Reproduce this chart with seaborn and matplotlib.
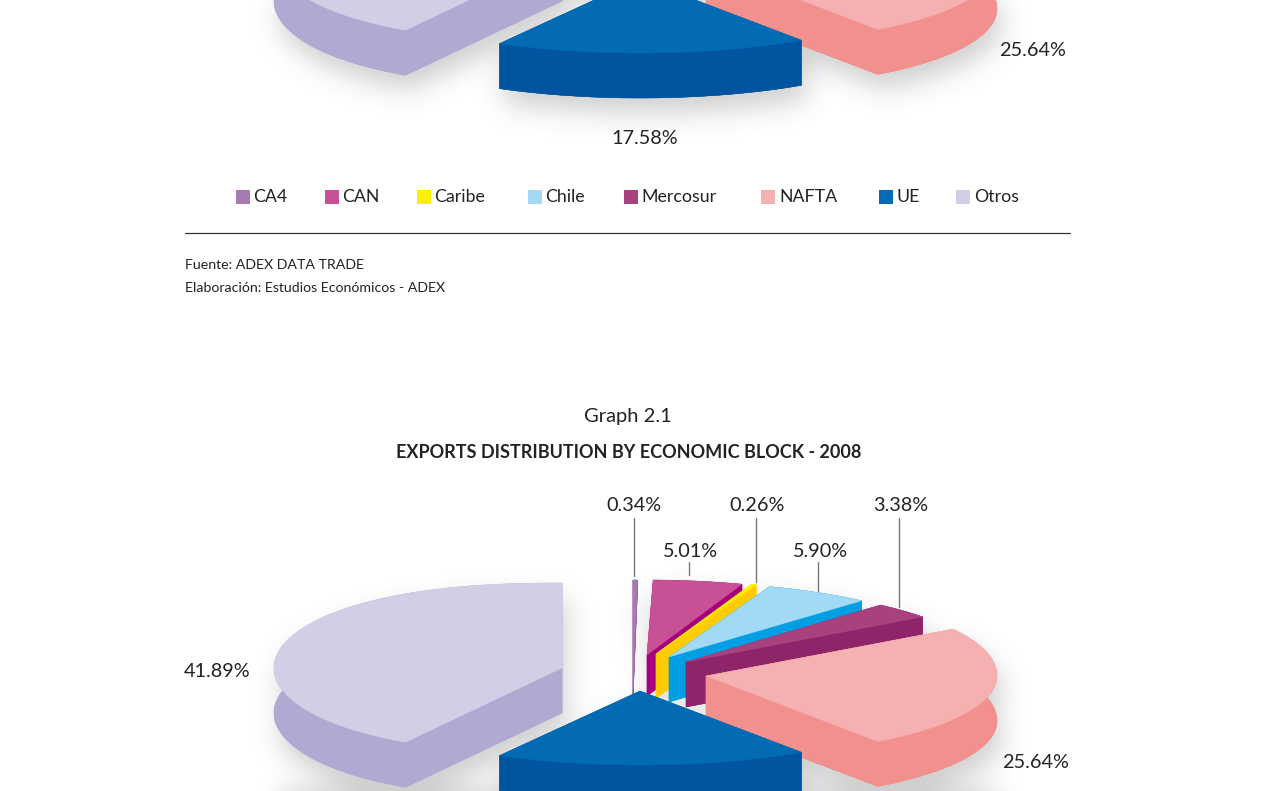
import numpy as np
import pandas as pd
import matplotlib
matplotlib.use("Agg")
import matplotlib.pyplot as plt
from matplotlib.path import Path
import seaborn as sns

# ---- data ----
categories = ["CA4", "CAN", "Caribe", "Chile", "Mercosur", "NAFTA", "UE", "Otros"]
shares = [0.34, 5.01, 0.26, 5.90, 3.38, 25.64, 17.58, 41.89]

# ---- styles ----
top_colors = ["#a67bb0", "#c85196", "#fff000", "#a2d9f5", "#a8427f", "#f5b1b2", "#036bb4", "#d2cee6"]
side_colors = ["#7f4d9b", "#a6007d", "#ffcc00", "#009fe3", "#8e2469", "#f1908c", "#0054a0", "#b0aad2"]
# exploded placement of each slice:
# apex x, apex y, radius x, radius y, depth, arc exponent (back half), arc exponent (front half)
placement = {
    "CA4": (633, 692, 215, 112, 8, 1.0, 1.0),
    "CAN": (647, 655, 288, 75, 41, 1.0, 1.0),
    "Caribe": (656, 654, 290, 74, 44, 1.0, 1.0),
    "Chile": (669, 657, 291, 75, 45, 1.0, 1.0),
    "Mercosur": (686, 662, 294, 76, 45, 1.0, 1.0),
    "NAFTA": (706, 676, 291, 79, 45, 0.76, 0.91),
    "UE": (640, 691, 288, 74, 45, 1.0, 1.0),
    "Otros": (562, 668, 288, 85, 45, 0.85, 0.85),
}
draw_order = ["CA4", "CAN", "Caribe", "Chile", "Mercosur", "NAFTA", "Otros", "UE"]
legend_swatch_x = [243, 332, 424, 535, 631, 768, 886, 963]
legend_text_x = [254, 343, 435, 546, 642, 780, 897, 975]
label_pos = {
    "CA4": (634, 505.5), "CAN": (690, 551.5), "Caribe": (757, 505.5), "Chile": (820, 551.5),
    "Mercosur": (901, 505.5), "NAFTA": (1035, 762.5), "Otros": (217, 671.5),
}
leaders = {"CA4": (634, 518, 576), "CAN": (689, 562, 575), "Caribe": (756, 518, 582),
           "Chile": (818, 562, 591), "Mercosur": (899, 518, 607)}
UPPER_DY = -712

sns.set_theme(style="white")
plt.rcParams["font.family"] = ["Lato", "DejaVu Sans"]
INK = "#222222"
W, H = 1272, 791
fig = plt.figure(figsize=(W / 100, H / 100), dpi=100)
ax = fig.add_axes([0, 0, 1, 1])
ax.set_axis_off()
ax.set_xlim(0, W)
ax.set_ylim(H, 0)
renderer = fig.canvas.get_renderer()


def fitted_size(sample, width_px, **kw):
    """Font size at which `sample` spans width_px."""
    t = ax.text(0, 0, sample, fontsize=20, **kw)
    w = t.get_window_extent(renderer).width
    t.remove()
    return 20 * width_px / w


# slice angles from the values, clockwise from 12 o'clock
edges = np.concatenate([[0], np.cumsum(shares)]) / 100 * 2 * np.pi
spans = {c: (edges[i], edges[i + 1]) for i, c in enumerate(categories)}


def outlines(cat, dy):
    x0, y0, a, b, depth, p_back, p_front = placement[cat]
    t = np.linspace(*spans[cat], 80)
    s, c = np.sin(t), np.cos(t)
    p = np.where(c >= 0, p_back, p_front)
    ax_ = x0 + a * np.sign(s) * np.abs(s) ** p
    ay_ = y0 + dy - b * c
    top = np.column_stack([np.r_[x0, ax_], np.r_[y0 + dy, ay_]])
    return top, depth


# soft shadow raster below the pies
scale = 2
gw, gh = W // scale, H // scale
gx, gy = np.meshgrid((np.arange(gw) + .5) * scale, (np.arange(gh) + .5) * scale)
pts = np.column_stack([gx.ravel(), gy.ravel()])
mask = np.zeros(gx.shape)
SHADOW_SHIFT = [5, 14]
for dy in (0, UPPER_DY):
    for cat in categories:
        top, depth = outlines(cat, dy)
        shifted = top + [0, depth]
        arc = top[1:]
        sweep = np.vstack([arc, (arc + [0, depth])[::-1]])
        for poly in (top, shifted, sweep):
            hit = Path(poly + SHADOW_SHIFT).contains_points(pts).reshape(gx.shape).astype(float)
            mask = np.maximum(mask, hit)
sigma = 13 / scale
fy = np.fft.fftfreq(gh)[:, None]
fx = np.fft.rfftfreq(gw)[None, :]
blur = np.fft.irfft2(np.fft.rfft2(mask) * np.exp(-2 * (np.pi * sigma) ** 2 * (fx ** 2 + fy ** 2)), s=mask.shape)
rgba = np.zeros((gh, gw, 4))
rgba[..., :3] = 0.3
rgba[..., 3] = np.clip(blur, 0, 1) * 0.27
ax.imshow(rgba, extent=(0, W, H, 0), interpolation="bilinear", zorder=1, aspect="auto")

# slices
colour_top = dict(zip(categories, top_colors))
colour_side = dict(zip(categories, side_colors))
z = 2
for dy in (UPPER_DY, 0):
    for cat in draw_order:
        top, depth = outlines(cat, dy)
        shifted = top + [0, depth]
        side = colour_side[cat]
        n = len(top)
        ax.fill(shifted[:, 0], shifted[:, 1], color=side, lw=0.3, zorder=z)
        arc = top[1:]
        sweep = np.vstack([arc, (arc + [0, depth])[::-1]])
        ax.fill(sweep[:, 0], sweep[:, 1], color=side, lw=0.3, zorder=z)
        for i, j in ((0, 1), (0, n - 1)):
            quad = np.array([top[i], top[j], shifted[j], shifted[i]])
            ax.fill(quad[:, 0], quad[:, 1], color=side, lw=0.3, zorder=z)
        ax.fill(top[:, 0], top[:, 1], color=colour_top[cat], lw=0.3, zorder=z + .5)
        z += 1

# value labels and leaders
LABEL_SIZE = fitted_size("0.34%", 55)
value = dict(zip(categories, shares))
for cat, (x, y) in label_pos.items():
    ax.text(x, y, f"{value[cat]:.2f}%", ha="center", va="center", fontsize=LABEL_SIZE, color=INK, zorder=40)
for cat, (x, y0, y1) in leaders.items():
    ax.plot([x, x], [y0, y1], color="#777777", lw=1.0, zorder=40)
ax.text(645, 139, f"{value['UE']:.2f}%", ha="center", va="center", fontsize=LABEL_SIZE, color=INK)
ax.text(1032, 50, f"{value['NAFTA']:.2f}%", ha="center", va="center", fontsize=LABEL_SIZE, color=INK)

# legend
legend_df = pd.DataFrame({"x": legend_swatch_x, "y": [197] * 8, "block": categories})
sns.scatterplot(data=legend_df, x="x", y="y", hue="block", palette=top_colors, marker="s",
                s=100, linewidth=0, legend=False, ax=ax, zorder=40)
LEGEND_SIZE = fitted_size("Mercosur", 75)
for name, x in zip(categories, legend_text_x):
    ax.text(x - 1, 197, name, ha="left", va="center", fontsize=LEGEND_SIZE, color=INK)

# rule and notes
ax.plot([185, 1070], [232.5, 232.5], color="#333333", lw=0.9)
note = "Elaboración: Estudios Económicos - ADEX"
NOTE_SIZE = fitted_size(note, 260)
ax.text(185, 265, "Fuente: ADEX DATA TRADE", ha="left", va="center", fontsize=NOTE_SIZE, color=INK)
ax.text(185, 288, note, ha="left", va="center", fontsize=NOTE_SIZE, color=INK)

# titles
ax.text(628, 416.5, "Graph 2.1", ha="center", va="center",
        fontsize=fitted_size("Graph 2.1", 88), color=INK)
heading = "EXPORTS DISTRIBUTION BY ECONOMIC BLOCK - 2008"
ax.text(628.5, 452, heading, ha="center", va="center",
        fontsize=fitted_size(heading, 465, fontweight="bold"), fontweight="bold", color=INK)

ax.set_xlim(0, W)
ax.set_ylim(H, 0)
fig.savefig("out.png", dpi=100, facecolor="white")
